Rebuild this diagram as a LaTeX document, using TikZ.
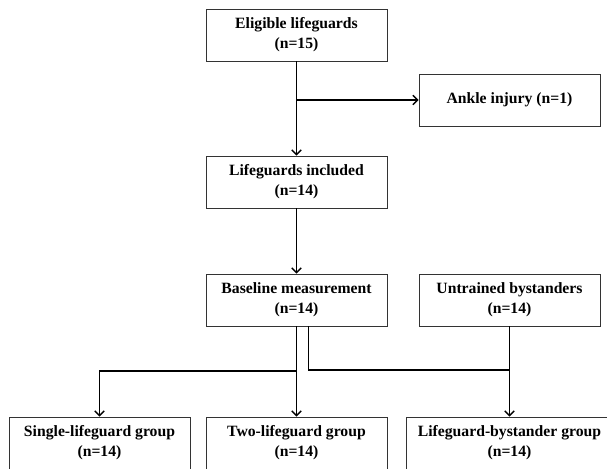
\documentclass[tikz,border=0pt]{standalone}
\usepackage{fontspec}
\setmainfont{Liberation Serif}
\usetikzlibrary{arrows.meta}
\begin{document}
\begin{tikzpicture}[x=0.03cm, y=-0.03cm,
  box/.style={draw=black!80, line width=0.7pt, align=center, inner sep=0pt,
    minimum width=5.43cm, minimum height=1.56cm,
    font=\bfseries\fontsize{13.4}{17}\selectfont},
  conn/.style={line width=1.2pt, -{Straight Barb[length=4pt, width=8pt]}},
  line/.style={line width=1.2pt}]
\useasboundingbox (0,0) rectangle (607,468);

\node[box] at (296.5,35) (elig) {Eligible lifeguards\\(n=15)};
\node[box] at (509.5,100) (ankle) {Ankle injury (n=1)};
\node[box] at (296.5,182) (incl) {Lifeguards included\\(n=14)};
\node[box] at (296.5,300) (base) {Baseline measurement\\(n=14)};
\node[box] at (509.5,300) (untr) {Untrained bystanders\\(n=14)};

\node[box] at (99.5,443) (single) {Single-lifeguard group\\(n=14)};
\node[box] at (296.5,443) (two) {Two-lifeguard group\\(n=14)};
\node[box, minimum width=6.18cm] at (509.5,443) (lbg) {Lifeguard-bystander group\\(n=14)};

\coordinate (out) at (296.5,100);
\coordinate (split) at (296.5,371);
\coordinate (join) at (509.5,370);

\draw[conn] (elig) -- (incl);
\draw[conn] (out) -- (ankle);
\draw[conn] (incl) -- (base);
\draw[conn] (base) -- (two);
\draw[conn] (split) -| (single);
\draw[line] ([xshift=0.36cm]base.south) |- (join);
\draw[conn] (untr) -- (lbg);
\end{tikzpicture}
\end{document}
